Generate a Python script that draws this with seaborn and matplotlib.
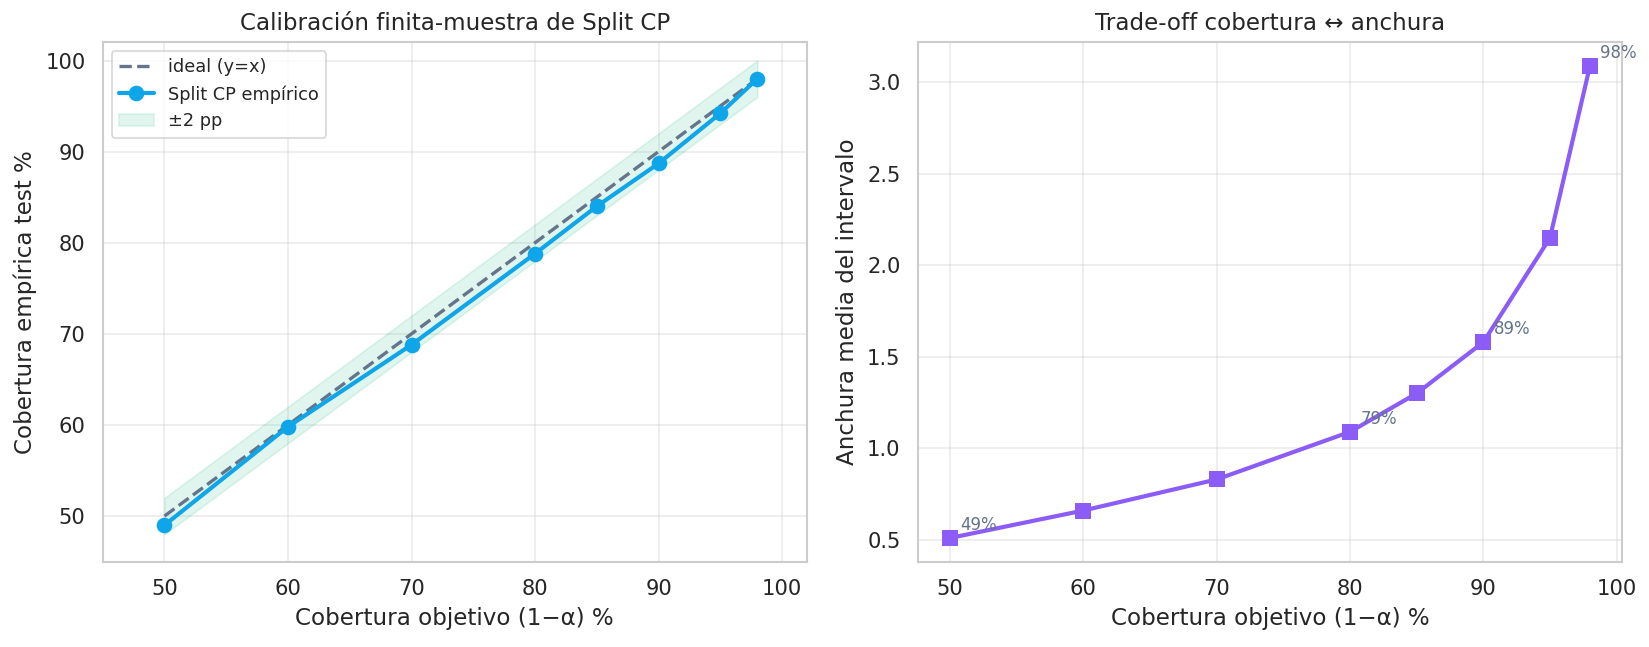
import numpy as np
import matplotlib
matplotlib.use("Agg")
import matplotlib.pyplot as plt
import seaborn as sns

# datos
target = [50, 60, 70, 80, 85, 90, 95, 98]
empirical = [49.0, 59.8, 68.8, 78.8, 84.0, 88.7, 94.2, 98.0]
width = [0.51, 0.66, 0.83, 1.09, 1.30, 1.58, 2.15, 3.09]
annot_targets = [50, 80, 90, 98]

sns.set_theme(style="whitegrid", context="paper", font_scale=1.15)
plt.rcParams['font.family'] = ['DejaVu Sans']

fig, axes = plt.subplots(1, 2, figsize=(1649 / 150, 647 / 150), dpi=150)
fig.subplots_adjust(left=0.0623, right=0.9836, bottom=0.132, top=0.9346, wspace=0.158)

# panel izquierdo: calibracion
ax = axes[0]
t = np.array(target, dtype=float)
ax.plot(t, t, linestyle="--", color="#64748b", lw=1.6, label="ideal (y=x)")
sns.lineplot(x=target, y=empirical, ax=ax, color="#0ea5e9", lw=2.0, marker="o",
             markersize=7.5, markeredgewidth=0, label="Split CP empírico")
ax.fill_between(t, t - 2, t + 2, color="#10b981", alpha=0.13, label="±2 pp")
ax.set_xlim(45, 102)
ax.set_ylim(45, 102)
ax.set_title("Calibración finita-muestra de Split CP")
ax.set_xlabel("Cobertura objetivo (1−α) %")
ax.set_ylabel("Cobertura empírica test %")
ax.set_xticks([50, 60, 70, 80, 90, 100])
ax.set_yticks([50, 60, 70, 80, 90, 100])
ax.legend(loc="upper left", fontsize=8.5)

# panel derecho: trade-off
ax = axes[1]
sns.lineplot(x=target, y=width, ax=ax, color="#8b5cf6", lw=2.0, marker="s",
             markersize=7.5, markeredgewidth=0)
for tg, em, w in zip(target, empirical, width):
    if tg in annot_targets:
        ax.annotate(f"{em:.0f}%", (tg, w), textcoords="offset points", xytext=(5, 4),
                    fontsize=8, color="#64748b")
ax.set_title("Trade-off cobertura ↔ anchura")
ax.set_xlabel("Cobertura objetivo (1−α) %")
ax.set_ylabel("Anchura media del intervalo")
ax.set_xticks([50, 60, 70, 80, 90, 100])

for a in axes:
    a.grid(True, alpha=0.4)

fig.savefig("out.png", dpi=150)
